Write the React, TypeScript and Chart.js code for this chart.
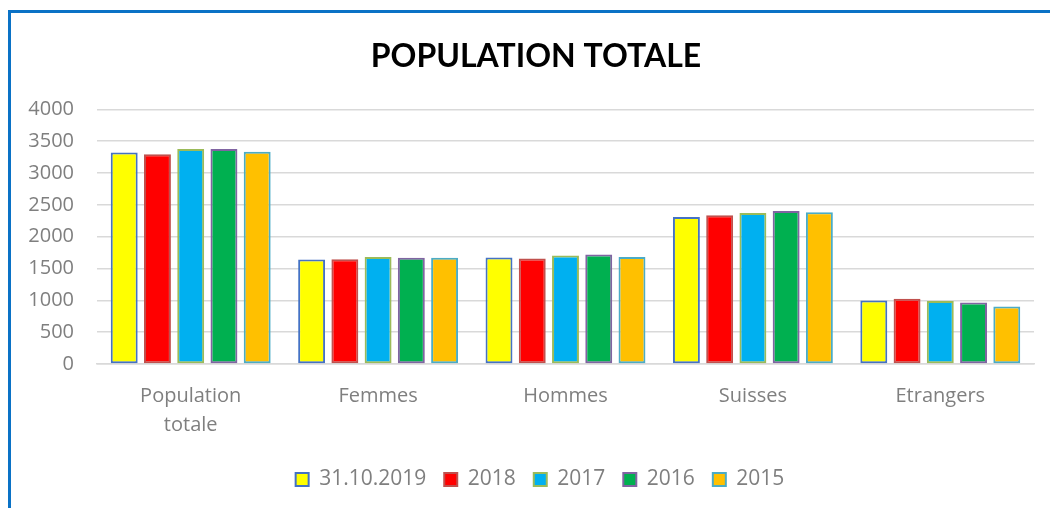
import React, { useEffect, useRef } from "react";
import { Chart, registerables } from "chart.js";

Chart.register(...registerables);

const categories: (string | string[])[] = [["Population", "totale"], "Femmes", "Hommes", "Suisses", "Etrangers"];
const seriesLabels = ["31.10.2019", "2018", "2017", "2016", "2015"];
const values2019 = [3321, 1642, 1673, 2311, 999];
const values2018 = [3294, 1647, 1658, 2337, 1025];
const values2017 = [3377, 1683, 1705, 2374, 988];
const values2016 = [3378, 1668, 1720, 2405, 967];
const values2015 = [3336, 1668, 1683, 2384, 905];
const yMin = 0;
const yMax = 4000;
const yStep = 500;

const fills = ["#FFFF00", "#FF0000", "#00B0F0", "#00B050", "#FFC000"];
const borders = ["#4472C4", "#C0504D", "#9BBB59", "#8064A2", "#4BACC6"];

const shiftBlocks = {
  id: "shiftBlocks",
  afterLayout(chart: any) {
    if (chart.titleBlock) {
      chart.titleBlock.left = 27;
      chart.titleBlock.right = 1023;
    }
    if (chart.legend) {
      chart.legend.left = 35;
      chart.legend.right = 1023;
      chart.legend.width = chart.legend.right - chart.legend.left;
    }
  },
};

export default function App() {
  const ref = useRef<HTMLCanvasElement | null>(null);

  useEffect(() => {
    if (!ref.current) return;
    const series = [values2019, values2018, values2017, values2016, values2015];
    const gray = "#7F7F7F";
    const chart = new Chart(ref.current, {
      type: "bar",
      data: {
        labels: categories,
        datasets: series.map((vals, i) => ({
          label: seriesLabels[i],
          data: vals,
          backgroundColor: fills[i],
          borderColor: borders[i],
          borderWidth: 2,
          borderSkipped: false,
          categoryPercentage: 0.887,
          barPercentage: 0.81,
        })),
      },
      plugins: [shiftBlocks],
      options: {
        animation: false,
        responsive: false,
        maintainAspectRatio: false,
        layout: { padding: { left: 0, right: 16, top: 0, bottom: 8 } },
        plugins: {
          title: {
            display: true,
            text: "POPULATION TOTALE",
            color: "#000000",
            font: { family: "Lato", size: 32, weight: "bold", lineHeight: 1.2 },
            padding: { top: 24, bottom: 34 },
          },
          legend: {
            position: "bottom",
            labels: {
              boxWidth: 13,
              boxHeight: 13,
              padding: 18,
              color: gray,
              font: { family: "Open Sans", size: 21 },
            },
          },
          tooltip: { enabled: false },
        },
        scales: {
          x: {
            grid: { display: false },
            border: { display: true, color: "#D9D9D9", width: 1.5 },
            ticks: {
              color: gray,
              font: { family: "Open Sans", size: 20, lineHeight: 1.45 },
              padding: 10,
              maxRotation: 0,
              autoSkip: false,
            },
            afterFit: (scale: any) => {
              scale.height = 87;
            },
          },
          y: {
            min: yMin,
            max: yMax,
            grid: { color: "#D9D9D9", lineWidth: 1.5, drawTicks: false },
            border: { display: false },
            ticks: {
              stepSize: yStep,
              color: gray,
              font: { family: "Open Sans", size: 20 },
              padding: 23,
              callback: (v: any) => String(v),
            },
            afterFit: (scale: any) => {
              scale.width = 86;
            },
          },
        },
      },
    });
    return () => chart.destroy();
  }, []);

  return (
    <div style={{ position: "relative", width: 1050, height: 508, overflow: "hidden", background: "#FFFFFF" }}>
      <style>{`body{margin:0;overflow:hidden;background:#fff}`}</style>
      <div
        style={{
          position: "absolute",
          left: 8,
          top: 10,
          width: 1042,
          height: 498,
          boxSizing: "border-box",
          borderLeft: "3px solid #0A72C6",
          borderTop: "3px solid #0A72C6",
        }}
      />
      <canvas
        ref={ref}
        width={1039}
        height={495}
        style={{ position: "absolute", left: 11, top: 13, width: 1039, height: 495 }}
      />
    </div>
  );
}
